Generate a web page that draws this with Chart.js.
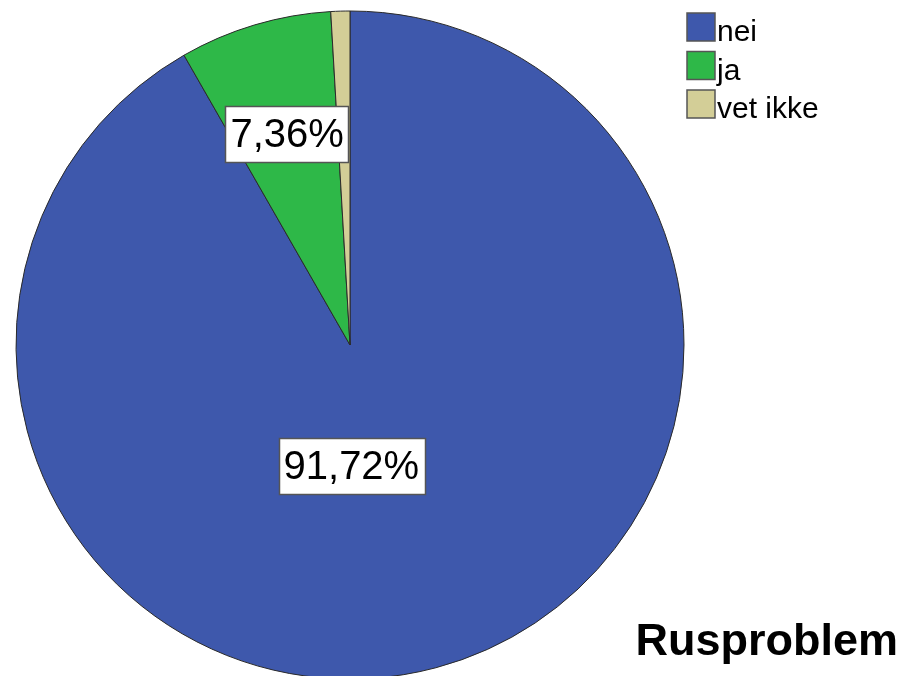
<!DOCTYPE html>
<html>
<head>
    <title>Rusproblem</title>
    <meta charset="utf-8">
    <script src="https://cdn.jsdelivr.net/npm/chart.js"></script>
    <style>
        html, body {
            margin: 0;
            padding: 0;
            background: #ffffff;
        }

        #chart-container {
            position: relative;
            width: 906px;
            height: 676px;
        }
    </style>
</head>
<body>
    <div id="chart-container">
        <canvas id="rusChart"></canvas>
    </div>
    <script>
        // Answers and their share in percent
        var categories = ['nei', 'ja', 'vet ikke'];
        var shares = [91.72, 7.36, 0.92];
        var sliceColors = ['#3E58AC', '#2EB848', '#D3CE97'];
        var chartTitle = 'Rusproblem';

        // Slice labels: how far out along the middle of the slice, plus a nudge
        var labelPlacement = [
            { r: 0.365, dx: -30, dy: 3 },
            { r: 0.66, dx: 0, dy: 0 },
            null
        ];

        function formatPct(v) {
            return v.toFixed(2).replace('.', ',') + '%';
        }

        var pieExtras = {
            id: 'pieExtras',
            afterDraw: function (chart) {
                var ctx = chart.ctx;
                var meta = chart.getDatasetMeta(0);
                var data = chart.data.datasets[0].data;

                // value boxes on the slices
                ctx.save();
                ctx.font = '40px "Liberation Sans", Arial, sans-serif';
                ctx.textAlign = 'center';
                ctx.textBaseline = 'middle';
                meta.data.forEach(function (arc, i) {
                    var place = labelPlacement[i];
                    if (!place) return;
                    var p = arc.getProps(['x', 'y', 'startAngle', 'endAngle', 'outerRadius'], true);
                    var mid = (p.startAngle + p.endAngle) / 2;
                    var cx = p.x + Math.cos(mid) * p.outerRadius * place.r + place.dx;
                    var cy = p.y + Math.sin(mid) * p.outerRadius * place.r + place.dy;
                    var text = formatPct(data[i]);
                    var w = ctx.measureText(text).width + 10;
                    var h = 56;
                    ctx.fillStyle = '#ffffff';
                    ctx.fillRect(Math.round(cx - w / 2) + 0.5, Math.round(cy - h / 2) + 0.5, Math.round(w), h);
                    ctx.strokeStyle = '#555555';
                    ctx.lineWidth = 1.5;
                    ctx.strokeRect(Math.round(cx - w / 2) + 0.5, Math.round(cy - h / 2) + 0.5, Math.round(w), h);
                    ctx.fillStyle = '#000000';
                    ctx.fillText(text, cx, cy + 2);
                });

                // legend in the top right corner
                ctx.font = '30px "Liberation Sans", Arial, sans-serif';
                ctx.textAlign = 'left';
                ctx.textBaseline = 'alphabetic';
                chart.data.labels.forEach(function (label, i) {
                    var y = 13 + i * 38.5;
                    ctx.fillStyle = sliceColors[i];
                    ctx.fillRect(687, y, 28, 28);
                    ctx.strokeStyle = '#555555';
                    ctx.lineWidth = 1.5;
                    ctx.strokeRect(687, y, 28, 28);
                    ctx.fillStyle = '#000000';
                    ctx.fillText(label, 717, y + 28);
                });

                // title bottom right
                ctx.font = 'bold 45px "Liberation Sans", Arial, sans-serif';
                ctx.textAlign = 'right';
                ctx.fillText(chartTitle, 898, 655);
                ctx.restore();
            }
        };

        var ctx = document.getElementById('rusChart').getContext('2d');
        var rusChart = new Chart(ctx, {
            type: 'pie',
            data: {
                labels: categories,
                datasets: [{
                    data: shares,
                    backgroundColor: sliceColors,
                    borderColor: '#2a2a2a',
                    borderWidth: 1,
                    radius: 334,
                    clip: false
                }]
            },
            options: {
                responsive: true,
                maintainAspectRatio: false,
                animation: false,
                layout: {
                    padding: { left: 16, right: 222, top: 14, bottom: 0 }
                },
                plugins: {
                    legend: { display: false },
                    tooltip: { enabled: false }
                }
            },
            plugins: [pieExtras]
        });
    </script>
</body>
</html>
